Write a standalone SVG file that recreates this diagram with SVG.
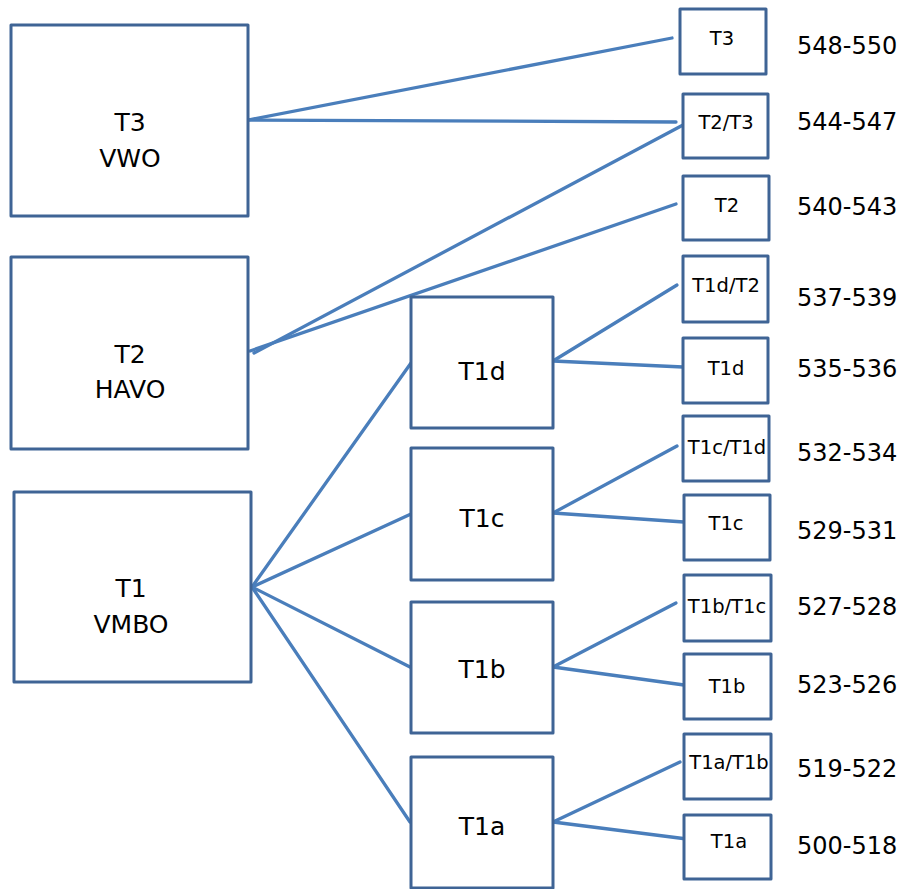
<svg xmlns="http://www.w3.org/2000/svg" width="903" height="889" viewBox="0 0 903 889">
<style>
.box{fill:#fff;stroke:#3f6495;stroke-width:3;stroke-linejoin:round}
.ln{stroke:#4a7ebb;stroke-width:3.3;fill:none;stroke-linecap:round}
text{font-family:"DejaVu Sans","Liberation Sans",sans-serif;fill:#000;text-anchor:middle}
.big{font-size:25px}
.mid{font-size:25px}
.sm{font-size:19.5px}
.num{font-size:24px;text-anchor:start}
</style>
<rect width="903" height="889" fill="#fff"/>
<g id="connectors">
<line class="ln" x1="248" y1="120" x2="672" y2="38"/>
<line class="ln" x1="248" y1="120" x2="676" y2="122"/>
<line class="ln" x1="254" y1="353" x2="683" y2="125"/>
<line class="ln" x1="250" y1="351" x2="676" y2="204"/>
<line class="ln" x1="252" y1="587" x2="411" y2="363"/>
<line class="ln" x1="252" y1="587" x2="411" y2="514"/>
<line class="ln" x1="252" y1="587" x2="410" y2="667"/>
<line class="ln" x1="252" y1="587" x2="410" y2="822"/>
<line class="ln" x1="553" y1="361" x2="677" y2="285"/>
<line class="ln" x1="553" y1="361" x2="683" y2="367"/>
<line class="ln" x1="553" y1="513" x2="677" y2="446"/>
<line class="ln" x1="553" y1="513" x2="684" y2="522"/>
<line class="ln" x1="553" y1="667" x2="676" y2="603"/>
<line class="ln" x1="553" y1="667" x2="684" y2="685"/>
<line class="ln" x1="553" y1="822" x2="680" y2="762"/>
<line class="ln" x1="553" y1="822" x2="687" y2="839"/>
</g>
<g id="n-vwo"><rect class="box" x="11" y="25" width="237" height="191"/><text class="big" x="130" y="131">T3</text><text class="big" x="130" y="167">VWO</text></g>
<g id="n-havo"><rect class="box" x="11" y="257" width="237" height="192"/><text class="big" x="130" y="363">T2</text><text class="big" x="130" y="398">HAVO</text></g>
<g id="n-vmbo"><rect class="box" x="14" y="492" width="237" height="190"/><text class="big" x="131" y="597">T1</text><text class="big" x="131" y="633">VMBO</text></g>
<g id="n-t1d"><rect class="box" x="411" y="297" width="142" height="131"/><text class="mid" x="482" y="380">T1d</text></g>
<g id="n-t1c"><rect class="box" x="411" y="448" width="142" height="132"/><text class="mid" x="482" y="527">T1c</text></g>
<g id="n-t1b"><rect class="box" x="411" y="602" width="142" height="131"/><text class="mid" x="482" y="678">T1b</text></g>
<g id="n-t1a"><rect class="box" x="411" y="757" width="142" height="131"/><text class="mid" x="482" y="835">T1a</text></g>
<g id="r-t3"><rect class="box" x="680" y="9" width="86" height="65"/><text class="sm" x="722" y="45">T3</text><text class="num" x="797" y="54">548-550</text></g>
<g id="r-t2t3"><rect class="box" x="683" y="94" width="85" height="64"/><text class="sm" x="726" y="129">T2/T3</text><text class="num" x="797" y="130">544-547</text></g>
<g id="r-t2"><rect class="box" x="683" y="176" width="86" height="64"/><text class="sm" x="727" y="212">T2</text><text class="num" x="797" y="215">540-543</text></g>
<g id="r-t1dt2"><rect class="box" x="683" y="256" width="85" height="66"/><text class="sm" x="726" y="292">T1d/T2</text><text class="num" x="797" y="306">537-539</text></g>
<g id="r-t1d"><rect class="box" x="683" y="338" width="85" height="65"/><text class="sm" x="726" y="375">T1d</text><text class="num" x="797" y="377">535-536</text></g>
<g id="r-t1ct1d"><rect class="box" x="683" y="416" width="86" height="65"/><text class="sm" x="727" y="454">T1c/T1d</text><text class="num" x="797" y="461">532-534</text></g>
<g id="r-t1c"><rect class="box" x="684" y="495" width="86" height="65"/><text class="sm" x="726" y="530">T1c</text><text class="num" x="797" y="539">529-531</text></g>
<g id="r-t1bt1c"><rect class="box" x="684" y="575" width="87" height="66"/><text class="sm" x="727" y="613">T1b/T1c</text><text class="num" x="797" y="615">527-528</text></g>
<g id="r-t1b"><rect class="box" x="684" y="654" width="87" height="65"/><text class="sm" x="727" y="693">T1b</text><text class="num" x="797" y="693">523-526</text></g>
<g id="r-t1at1b"><rect class="box" x="684" y="734" width="87" height="65"/><text class="sm" x="729" y="769">T1a/T1b</text><text class="num" x="797" y="777">519-522</text></g>
<g id="r-t1a"><rect class="box" x="684" y="815" width="87" height="64"/><text class="sm" x="729" y="848">T1a</text><text class="num" x="797" y="854">500-518</text></g>
</svg>
